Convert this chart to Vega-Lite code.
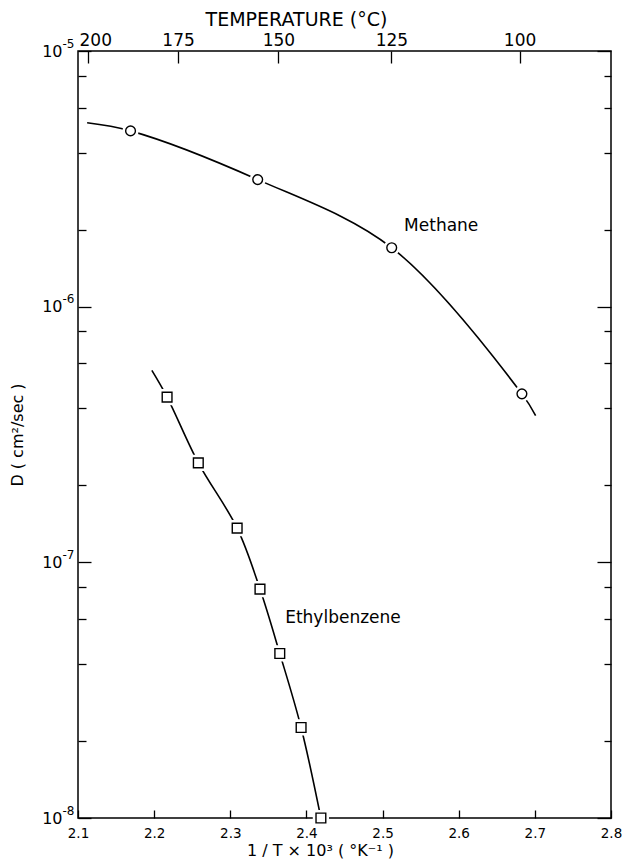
{
  "$schema": "https://vega.github.io/schema/vega-lite/v6.json",
  "width": 533,
  "height": 767,
  "autosize": {"type": "none"},
  "padding": {"left": 78, "top": 51, "right": 11, "bottom": 46},
  "background": "white",
  "config": {
    "view": {"stroke": "black", "strokeWidth": 1.5},
    "font": "DejaVu Sans",
    "axis": {
      "domain": false,
      "grid": false,
      "tickColor": "black",
      "tickWidth": 1.3,
      "tickSize": -8,
      "labelColor": "black",
      "labelFont": "DejaVu Sans",
      "labelFontSize": 14,
      "titleColor": "black",
      "titleFont": "DejaVu Sans",
      "titleFontSize": 16,
      "titleFontWeight": "normal"
    }
  },
  "datasets": {
    "points": [
      {"series": "Methane", "inv_t": 2.169, "d": 4.87e-6},
      {"series": "Methane", "inv_t": 2.336, "d": 3.14e-6},
      {"series": "Methane", "inv_t": 2.512, "d": 1.70e-6},
      {"series": "Methane", "inv_t": 2.683, "d": 4.56e-7},
      {"series": "Ethylbenzene", "inv_t": 2.217, "d": 4.43e-7},
      {"series": "Ethylbenzene", "inv_t": 2.258, "d": 2.45e-7},
      {"series": "Ethylbenzene", "inv_t": 2.309, "d": 1.36e-7},
      {"series": "Ethylbenzene", "inv_t": 2.339, "d": 7.86e-8},
      {"series": "Ethylbenzene", "inv_t": 2.365, "d": 4.40e-8},
      {"series": "Ethylbenzene", "inv_t": 2.393, "d": 2.26e-8},
      {"series": "Ethylbenzene", "inv_t": 2.419, "d": 1.0e-8}
    ],
    "curves": [
      {"series": "Methane", "inv_t": 2.112, "d": 5.24e-6},
      {"series": "Methane", "inv_t": 2.169, "d": 4.87e-6},
      {"series": "Methane", "inv_t": 2.336, "d": 3.14e-6},
      {"series": "Methane", "inv_t": 2.512, "d": 1.70e-6},
      {"series": "Methane", "inv_t": 2.683, "d": 4.56e-7},
      {"series": "Methane", "inv_t": 2.701, "d": 3.75e-7},
      {"series": "Ethylbenzene", "inv_t": 2.197, "d": 5.63e-7},
      {"series": "Ethylbenzene", "inv_t": 2.217, "d": 4.43e-7},
      {"series": "Ethylbenzene", "inv_t": 2.258, "d": 2.45e-7},
      {"series": "Ethylbenzene", "inv_t": 2.309, "d": 1.36e-7},
      {"series": "Ethylbenzene", "inv_t": 2.339, "d": 7.86e-8},
      {"series": "Ethylbenzene", "inv_t": 2.365, "d": 4.40e-8},
      {"series": "Ethylbenzene", "inv_t": 2.393, "d": 2.26e-8},
      {"series": "Ethylbenzene", "inv_t": 2.419, "d": 1.0e-8}
    ],
    "labels": [
      {"name": "Methane", "inv_t": 2.577, "d": 2.06e-6},
      {"name": "Ethylbenzene", "inv_t": 2.448, "d": 6.08e-8}
    ]
  },
  "layer": [
    {
      "data": {"name": "curves"},
      "mark": {"type": "line", "color": "black", "strokeWidth": 1.6, "interpolate": "catmull-rom", "clip": true},
      "encoding": {
        "x": {
          "field": "inv_t", "type": "quantitative",
          "scale": {"domain": [2.1, 2.8], "nice": false, "zero": false},
          "axis": {
            "orient": "bottom",
            "values": [2.1, 2.2, 2.3, 2.4, 2.5, 2.6, 2.7, 2.8],
            "format": ".1f",
            "tickSize": -8,
            "labelFontSize": 13.5,
            "labelPadding": 16,
            "labelFlush": false,
            "title": "1 / T × 10³ ( °K⁻¹ )",
            "titleX": 242,
            "titleAlign": "center",
            "titlePadding": 3
          }
        },
        "y": {
          "field": "d", "type": "quantitative",
          "scale": {"type": "log", "domain": [1e-8, 1e-5], "nice": false},
          "axis": {
            "orient": "left",
            "values": [1e-8, 2e-8, 4e-8, 6e-8, 8e-8, 1e-7, 2e-7, 4e-7, 6e-7, 8e-7, 1e-6, 2e-6, 4e-6, 6e-6, 8e-6, 1e-5],
            "tickSize": {"condition": {"test": "abs(log(datum.value)/LN10 - round(log(datum.value)/LN10)) < 0.001", "value": -13}, "value": -8},
            "labelExpr": "abs(log(datum.value)/LN10 - round(log(datum.value)/LN10)) > 0.001 ? '' : '10'",
            "labelFontSize": 16,
            "labelPadding": {"condition": {"test": "abs(log(datum.value)/LN10 - round(log(datum.value)/LN10)) < 0.001", "value": 29}, "value": 24},
            "labelFlush": false,
            "labelOverlap": false,
            "title": "D ( cm²/sec )",
            "titlePadding": 16
          }
        },
        "detail": {"field": "series"}
      }
    },
    {
      "data": {"name": "points"},
      "mark": {"type": "point", "filled": true, "fill": "white", "stroke": "white", "strokeWidth": 4, "size": 150, "opacity": 1},
      "encoding": {
        "x": {
          "field": "inv_t", "type": "quantitative",
          "scale": {"domain": [2.1, 2.8], "nice": false, "zero": false},
          "axis": {
            "orient": "top",
            "values": [2.11349, 2.23139, 2.36323, 2.51161, 2.67989],
            "labelExpr": "format(1000/datum.value - 273.15, '.0f')",
            "tickSize": -12,
            "labelFontSize": 17,
            "labelPadding": 14,
            "labelOffset": {"condition": {"test": "datum.value < 2.12", "value": 7}, "value": 0},
            "labelFlush": false,
            "title": "TEMPERATURE (°C)",
            "titleFontSize": 19,
            "titleX": 218,
            "titleAlign": "center",
            "titlePadding": 2
          }
        },
        "y": {
          "field": "d", "type": "quantitative",
          "scale": {"type": "log", "domain": [1e-8, 1e-5], "nice": false},
          "axis": {
            "orient": "right",
            "values": [1e-8, 2e-8, 4e-8, 6e-8, 8e-8, 1e-7, 2e-7, 4e-7, 6e-7, 8e-7, 1e-6, 2e-6, 4e-6, 6e-6, 8e-6, 1e-5],
            "tickSize": {"condition": {"test": "abs(log(datum.value)/LN10 - round(log(datum.value)/LN10)) < 0.001", "value": -14}, "value": -7},
            "labels": false,
            "title": null
          }
        },
        "shape": {"field": "series", "type": "nominal", "scale": {"domain": ["Methane", "Ethylbenzene"], "range": ["circle", "square"]}, "legend": null}
      }
    },
    {
      "data": {"name": "points"},
      "mark": {"type": "point", "filled": false, "fill": "white", "fillOpacity": 1, "stroke": "black", "strokeWidth": 1.4, "size": 95, "opacity": 1},
      "encoding": {
        "x": {"field": "inv_t", "type": "quantitative", "scale": {"domain": [2.1, 2.8], "nice": false, "zero": false}, "axis": null},
        "y": {
          "field": "d", "type": "quantitative",
          "scale": {"type": "log", "domain": [1e-8, 1e-5], "nice": false},
          "axis": {
            "orient": "left",
            "values": [1e-8, 1e-7, 1e-6, 1e-5],
            "labelExpr": "'-' + format(-round(log(datum.value)/LN10), 'd')",
            "ticks": false,
            "labelFontSize": 12,
            "labelPadding": 4,
            "labelOffset": -8,
            "labelFlush": false,
            "labelOverlap": false,
            "title": null
          }
        },
        "shape": {"field": "series", "type": "nominal", "scale": {"domain": ["Methane", "Ethylbenzene"], "range": ["circle", "square"]}, "legend": null}
      }
    },
    {
      "data": {"name": "labels"},
      "mark": {"type": "text", "font": "DejaVu Sans", "fontSize": 17, "color": "black", "align": "center", "baseline": "middle"},
      "encoding": {
        "x": {"field": "inv_t", "type": "quantitative", "scale": {"domain": [2.1, 2.8], "nice": false, "zero": false}, "axis": null},
        "y": {"field": "d", "type": "quantitative", "scale": {"type": "log", "domain": [1e-8, 1e-5], "nice": false}, "axis": null},
        "text": {"field": "name", "type": "nominal"}
      }
    }
  ],
  "resolve": {"axis": {"x": "independent", "y": "independent"}}
}
